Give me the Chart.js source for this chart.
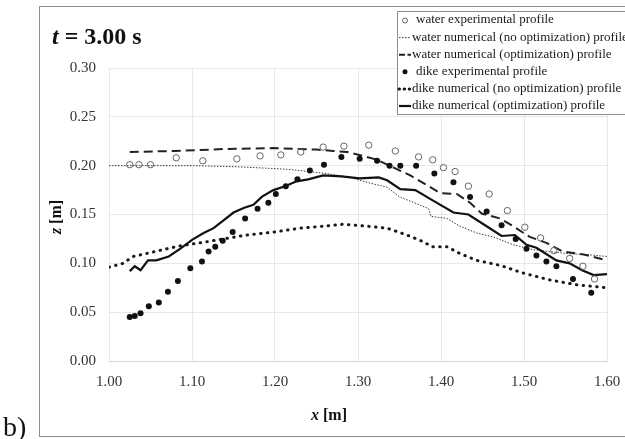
<!DOCTYPE html>
<html>
<head>
<meta charset="utf-8">
<script src="https://cdn.jsdelivr.net/npm/chart.js@4.4.1/dist/chart.umd.min.js"></script>
<style>
  body { margin: 0; background: #fff; }
  #wrap { width: 625px; height: 439px; }
</style>
</head>
<body>
<div id="wrap"><canvas id="profileChart" width="625" height="439"></canvas></div>
<script>
// series labels (legend order)
var seriesLabels = [
    "water experimental profile",
    "water numerical (no optimization) profile",
    "water numerical (optimization) profile",
    "dike experimental profile",
    "dike numerical (no optimization) profile",
    "dike numerical (optimization) profile"
];

// water experimental profile
var waterExpX = [1.025, 1.036, 1.050, 1.081, 1.113, 1.154, 1.182, 1.207, 1.231, 1.258, 1.283, 1.313, 1.345, 1.373, 1.390, 1.403, 1.417, 1.433, 1.458, 1.480, 1.501, 1.520, 1.536, 1.555, 1.571, 1.585];
var waterExpZ = [0.201, 0.201, 0.201, 0.208, 0.205, 0.207, 0.210, 0.211, 0.214, 0.219, 0.220, 0.221, 0.215, 0.209, 0.206, 0.198, 0.194, 0.179, 0.171, 0.154, 0.137, 0.126, 0.113, 0.105, 0.097, 0.084];

// water numerical (no optimization)
var waterNoOptX = [1.000, 1.050, 1.100, 1.150, 1.200, 1.220, 1.240, 1.262, 1.290, 1.315, 1.335, 1.350, 1.371, 1.385, 1.388, 1.407, 1.423, 1.443, 1.463, 1.487, 1.511, 1.531, 1.551, 1.575, 1.600];
var waterNoOptZ = [0.200, 0.200, 0.200, 0.199, 0.197, 0.196, 0.194, 0.192, 0.188, 0.182, 0.178, 0.168, 0.161, 0.156, 0.148, 0.146, 0.138, 0.131, 0.127, 0.119, 0.114, 0.112, 0.110, 0.109, 0.107];

// water numerical (optimization)
var waterOptX = [1.025, 1.078, 1.138, 1.198, 1.230, 1.250, 1.270, 1.287, 1.306, 1.323, 1.343, 1.363, 1.383, 1.399, 1.419, 1.435, 1.449, 1.471, 1.487, 1.507, 1.527, 1.547, 1.572, 1.600];
var waterOptZ = [0.214, 0.215, 0.217, 0.218, 0.217, 0.2165, 0.215, 0.214, 0.210, 0.206, 0.198, 0.190, 0.180, 0.172, 0.171, 0.162, 0.151, 0.146, 0.138, 0.127, 0.121, 0.112, 0.109, 0.103];

// dike experimental profile
var dikeExpX = [1.025, 1.031, 1.038, 1.048, 1.060, 1.071, 1.083, 1.098, 1.112, 1.120, 1.128, 1.137, 1.149, 1.164, 1.179, 1.192, 1.201, 1.213, 1.227, 1.242, 1.259, 1.280, 1.302, 1.323, 1.338, 1.351, 1.370, 1.392, 1.415, 1.435, 1.455, 1.473, 1.490, 1.503, 1.515, 1.527, 1.539, 1.559, 1.581];
var dikeExpZ = [0.045, 0.046, 0.049, 0.056, 0.060, 0.071, 0.082, 0.095, 0.102, 0.112, 0.117, 0.123, 0.132, 0.146, 0.156, 0.162, 0.171, 0.179, 0.186, 0.195, 0.201, 0.209, 0.207, 0.205, 0.200, 0.200, 0.200, 0.192, 0.183, 0.168, 0.153, 0.139, 0.125, 0.115, 0.108, 0.102, 0.097, 0.084, 0.070];

// dike numerical (no optimization)
var dikeNoOptX = [1.000, 1.017, 1.029, 1.045, 1.065, 1.086, 1.110, 1.138, 1.166, 1.198, 1.230, 1.258, 1.282, 1.311, 1.335, 1.359, 1.379, 1.389, 1.407, 1.423, 1.443, 1.471, 1.499, 1.531, 1.564, 1.600];
var dikeNoOptZ = [0.096, 0.100, 0.107, 0.110, 0.114, 0.118, 0.121, 0.125, 0.129, 0.132, 0.136, 0.138, 0.140, 0.138, 0.136, 0.129, 0.122, 0.117, 0.117, 0.110, 0.103, 0.098, 0.090, 0.083, 0.078, 0.075];

// dike numerical (optimization)
var dikeOptX = [1.025, 1.031, 1.038, 1.047, 1.057, 1.072, 1.086, 1.100, 1.114, 1.126, 1.138, 1.150, 1.163, 1.174, 1.184, 1.198, 1.212, 1.226, 1.240, 1.258, 1.280, 1.302, 1.325, 1.335, 1.351, 1.369, 1.391, 1.415, 1.433, 1.455, 1.473, 1.489, 1.503, 1.515, 1.539, 1.555, 1.570, 1.584, 1.600];
var dikeOptZ = [0.092, 0.097, 0.093, 0.103, 0.103, 0.107, 0.115, 0.124, 0.131, 0.136, 0.144, 0.152, 0.157, 0.160, 0.168, 0.175, 0.179, 0.184, 0.186, 0.190, 0.189, 0.187, 0.188, 0.185, 0.176, 0.175, 0.164, 0.152, 0.150, 0.138, 0.128, 0.129, 0.119, 0.116, 0.103, 0.100, 0.093, 0.088, 0.089];

function pts(xs, zs) {
    return xs.map(function (x, i) { return { x: x, y: zs[i] }; });
}

var serif = "'Liberation Serif', 'Times New Roman', serif";

var datasets = [
    {
        label: seriesLabels[0], data: pts(waterExpX, waterExpZ), showLine: false,
        pointRadius: 3.2, pointBorderWidth: 1, pointBorderColor: "#666", pointBackgroundColor: "rgba(255,255,255,0)",
        order: 1
    },
    {
        label: seriesLabels[1], data: pts(waterNoOptX, waterNoOptZ), showLine: true, pointRadius: 0,
        borderColor: "#3c3c3c", borderWidth: 1, borderDash: [1.5, 1.5], order: 4
    },
    {
        label: seriesLabels[2], data: pts(waterOptX, waterOptZ), showLine: true, pointRadius: 0,
        borderColor: "#222", borderWidth: 2, borderDash: [9, 5], legendDash: [6, 2.5], order: 3
    },
    {
        label: seriesLabels[3], data: pts(dikeExpX, dikeExpZ), showLine: false,
        pointRadius: 3, pointBorderWidth: 0, pointBackgroundColor: "#111", order: 0
    },
    {
        label: seriesLabels[4], data: pts(dikeNoOptX, dikeNoOptZ), showLine: true, pointRadius: 0,
        borderColor: "#1a1a1a", borderWidth: 3, borderDash: [0.5, 6.3], legendDash: [0.5, 4.6], borderCapStyle: "round", order: 5
    },
    {
        label: seriesLabels[5], data: pts(dikeOptX, dikeOptZ), showLine: true, pointRadius: 0,
        borderColor: "#111", borderWidth: 2.2, order: 2
    }
];

// frame, title, axis titles and the boxed legend
var decor = {
    id: "decor",
    beforeDraw: function (chart) {
        var ctx = chart.ctx;
        ctx.save();
        ctx.strokeStyle = "#8c8c8c";
        ctx.lineWidth = 1;
        ctx.strokeRect(39.5, 6.5, 640, 430);
        ctx.fillStyle = "#111";
        ctx.font = "28px " + serif;
        ctx.textBaseline = "alphabetic";
        ctx.fillText("b)", 3, 436);
        ctx.restore();
    },
    afterDraw: function (chart) {
        var ctx = chart.ctx;
        ctx.save();
        ctx.fillStyle = "#111";
        ctx.textBaseline = "alphabetic";

        // t = 3.00 s
        ctx.font = "italic bold 24px " + serif;
        ctx.fillText("t", 52, 44);
        var w = ctx.measureText("t").width;
        ctx.font = "bold 24px " + serif;
        ctx.fillText(" = 3.00 s", 52 + w, 44);

        // x [m]
        ctx.font = "italic bold 16px " + serif;
        var w1 = ctx.measureText("x").width;
        ctx.font = "bold 16px " + serif;
        var w2 = ctx.measureText(" [m]").width;
        var x0 = 329 - (w1 + w2) / 2;
        ctx.font = "italic bold 16px " + serif;
        ctx.fillText("x", x0, 420);
        ctx.font = "bold 16px " + serif;
        ctx.fillText(" [m]", x0 + w1, 420);

        // z [m]
        ctx.save();
        ctx.translate(61, 217);
        ctx.rotate(-Math.PI / 2);
        ctx.font = "italic bold 16px " + serif;
        w1 = ctx.measureText("z").width;
        ctx.font = "bold 16px " + serif;
        w2 = ctx.measureText(" [m]").width;
        x0 = -(w1 + w2) / 2;
        ctx.font = "italic bold 16px " + serif;
        ctx.fillText("z", x0, 0);
        ctx.font = "bold 16px " + serif;
        ctx.fillText(" [m]", x0 + w1, 0);
        ctx.restore();

        // legend
        ctx.fillStyle = "#fff";
        ctx.fillRect(397.5, 11.5, 240, 103);
        ctx.strokeStyle = "#8c8c8c";
        ctx.lineWidth = 1;
        ctx.strokeRect(397.5, 11.5, 240, 103);
        ctx.font = "13px " + serif;
        ctx.textBaseline = "middle";
        chart.data.datasets.forEach(function (ds, i) {
            var y = 20 + i * 17.1;
            ctx.save();
            if (ds.showLine) {
                ctx.strokeStyle = ds.borderColor;
                ctx.lineWidth = ds.borderWidth;
                ctx.lineCap = ds.borderCapStyle || "butt";
                ctx.setLineDash(ds.legendDash || ds.borderDash || []);
                ctx.beginPath();
                ctx.moveTo(399, y + 0.5);
                ctx.lineTo(411, y + 0.5);
                ctx.stroke();
            } else {
                ctx.beginPath();
                ctx.arc(405, y + 0.5, 2.5, 0, Math.PI * 2);
                if (ds.pointBorderWidth) {
                    ctx.strokeStyle = ds.pointBorderColor;
                    ctx.lineWidth = ds.pointBorderWidth;
                    ctx.stroke();
                } else {
                    ctx.fillStyle = ds.pointBackgroundColor;
                    ctx.fill();
                }
            }
            ctx.restore();
            ctx.fillStyle = "#1a1a1a";
            ctx.fillText(ds.label, ds.showLine ? 412 : 416, y);
        });
        ctx.restore();
    }
};

new Chart(document.getElementById("profileChart"), {
    type: "scatter",
    data: { datasets: datasets },
    options: {
        responsive: false,
        animation: false,
        events: [],
        layout: { padding: { left: 0, top: 68, right: 18, bottom: 0 } },
        elements: { line: { tension: 0 } },
        plugins: {
            legend: { display: false },
            tooltip: { enabled: false }
        },
        scales: {
            x: {
                type: "linear",
                min: 1.0,
                max: 1.6,
                afterFit: function (scale) {
                    scale.height = 78;
                    scale.paddingLeft = 0;
                    scale.paddingRight = 0;
                },
                ticks: {
                    stepSize: 0.1,
                    padding: 12,
                    color: "#333",
                    font: { family: serif, size: 15 },
                    callback: function (v) { return v.toFixed(2); }
                },
                grid: { color: "#e8e8e8", drawTicks: false },
                border: { color: "#d4d4d4" }
            },
            y: {
                min: 0,
                max: 0.3,
                afterFit: function (scale) {
                    scale.width = 109;
                    scale.paddingTop = 0;
                    scale.paddingBottom = 0;
                },
                ticks: {
                    stepSize: 0.05,
                    padding: 13,
                    color: "#333",
                    font: { family: serif, size: 15 },
                    callback: function (v) { return v.toFixed(2); }
                },
                grid: { color: "#e8e8e8", drawTicks: false },
                border: { display: false }
            }
        }
    },
    plugins: [decor]
});
</script>
</body>
</html>
